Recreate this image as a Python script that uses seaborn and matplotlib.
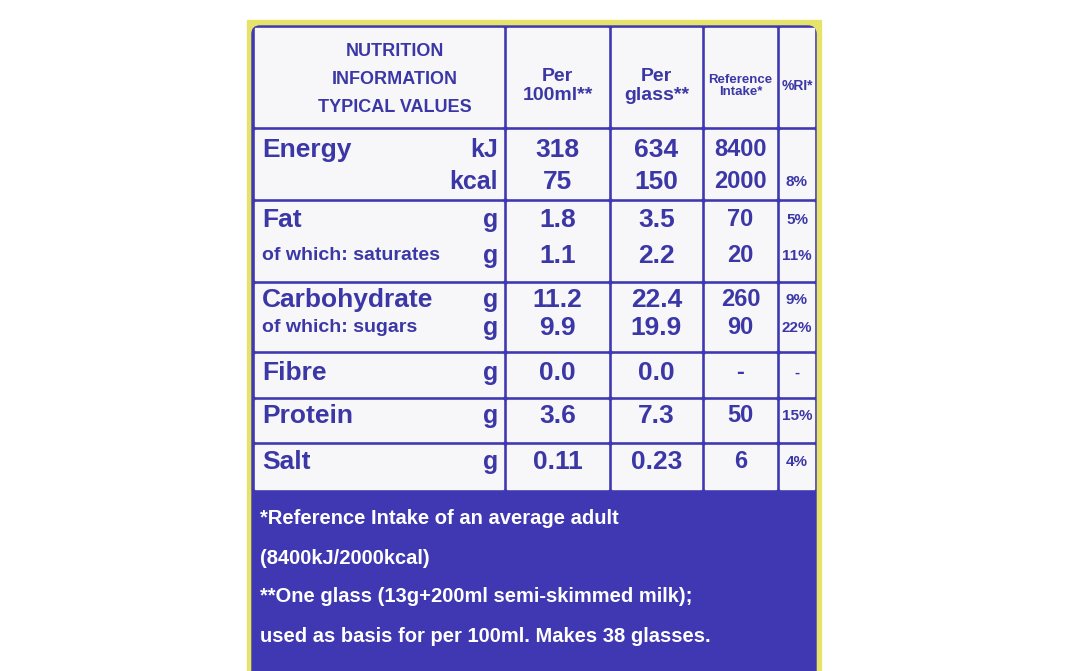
import matplotlib
matplotlib.use("Agg")
import matplotlib.pyplot as plt
from matplotlib.patches import Rectangle, FancyBboxPatch
import seaborn as sns

# data
header_name = ["NUTRITION", "INFORMATION", "TYPICAL VALUES"]
col_heads = ["Per\n100ml**", "Per\nglass**", "Reference\nIntake*", "%RI*"]
line_labels = ["Energy", "", "Fat", "of which: saturates", "Carbohydrate",
               "of which: sugars", "Fibre", "Protein", "Salt"]
units = ["kJ", "kcal", "g", "g", "g", "g", "g", "g", "g"]
per100 = ["318", "75", "1.8", "1.1", "11.2", "9.9", "0.0", "3.6", "0.11"]
perglass = ["634", "150", "3.5", "2.2", "22.4", "19.9", "0.0", "7.3", "0.23"]
ref_intake = ["8400", "2000", "70", "20", "260", "90", "-", "50", "6"]
ri = ["", "8%", "5%", "11%", "9%", "22%", "-", "15%", "4%"]
footer = ["*Reference Intake of an average adult", "(8400kJ/2000kcal)",
          "**One glass (13g+200ml semi-skimmed milk);",
          "used as basis for per 100ml. Makes 38 glasses."]

# layout (pixels)
line_y = [150, 182, 220, 256, 300, 328, 373, 416, 462]
groups = [(28, 126), (130, 198), (202, 280), (284, 350), (354, 396), (400, 441), (445, 489)]
cols = [(255, 503), (507, 608), (612, 701), (705, 776), (780, 814)]
blue = "#3b37a6"
bg_blue = "#3f38b2"

sns.set_style("white")
plt.rcParams['font.family'] = ['Liberation Sans Narrow', 'Liberation Sans', 'DejaVu Sans']

fig = plt.figure(figsize=(10.68, 6.71), dpi=100)
ax = fig.add_axes([0, 0, 1, 1])
ax.set_xlim(0, 1068)
ax.set_ylim(671, 0)
ax.axis("off")

ax.add_patch(Rectangle((247, 20), 574, 660, color="#e6e36a", zorder=0))
ax.add_patch(FancyBboxPatch((252, 26), 564, 660, boxstyle="round,pad=0,rounding_size=8",
                            color=bg_blue, zorder=1))
for y0, y1 in groups:
    for x0, x1 in cols:
        ax.add_patch(Rectangle((x0, y0), x1 - x0, y1 - y0, color="#f7f6f8", zorder=2))

# header
for i, t in enumerate(header_name):
    ax.text(395, 52 + i * 28, t, ha="center", va="center", color=blue, fontsize=13,
            fontweight="bold", zorder=3)
head_sizes = [14, 14, 9.5, 10]
for (x0, x1), t, s in zip(cols[1:], col_heads, head_sizes):
    ax.text((x0 + x1) / 2, 86, t, ha="center", va="center", color=blue, fontsize=s,
            fontweight="bold", linespacing=1.1, zorder=3)

# rows
for i, y in enumerate(line_y):
    small = line_labels[i].startswith("of which")
    ax.text(262, y, line_labels[i], ha="left", va="center", color=blue,
            fontsize=14 if small else 19, fontweight="bold", zorder=3)
    ax.text(498, y, units[i], ha="right", va="center", color=blue, fontsize=18,
            fontweight="bold", zorder=3)
    for (x0, x1), v, s in zip(cols[1:], [per100[i], perglass[i], ref_intake[i], ri[i]],
                              [19, 19, 17, 11]):
        ax.text((x0 + x1) / 2, y, v, ha="center", va="center", color=blue, fontsize=s,
                fontweight="bold", zorder=3)

# footer
for i, t in enumerate(footer):
    ax.text(260, 519 + i * 39, t, ha="left", va="center", color="white", fontsize=14.5,
            fontweight="bold", zorder=3)

plt.savefig("out.png", dpi=100, facecolor="white")
